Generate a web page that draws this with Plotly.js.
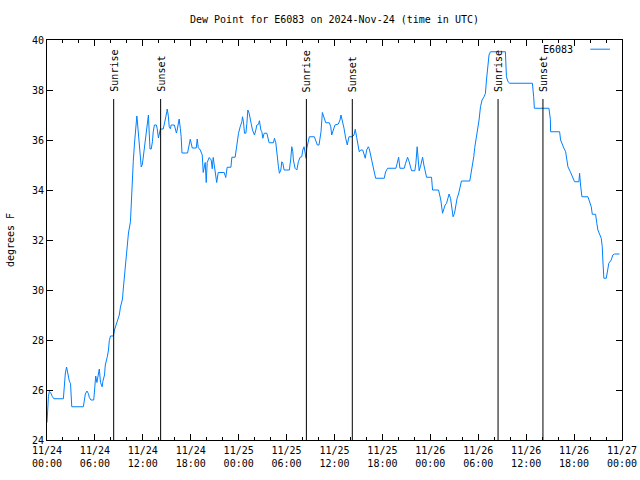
<!DOCTYPE html>
<html><head><meta charset="utf-8">
<script src="https://cdn.plot.ly/plotly-3.0.1.min.js"></script>
<style>html,body{margin:0;padding:0;background:#fff}</style>
</head><body><div id="chart" style="width:640px;height:480px"></div>
<script>
// hours since 2024-11-24 00:00 UTC
const hours = [
0.00,0.08,0.18,0.30,0.45,0.65,0.85,2.05,2.20,2.30,2.45,2.55,2.70,2.80,2.95,3.05,3.10,4.55,4.70,4.80,
5.00,5.20,5.30,5.50,5.85,5.95,6.10,6.25,6.45,6.55,6.70,6.90,7.00,7.20,7.30,7.45,7.55,7.70,7.80,7.95,
8.30,8.45,8.70,8.90,9.05,9.20,9.45,9.55,9.75,9.95,10.05,10.20,10.45,10.55,10.70,10.80,10.95,11.05,11.20,11.25,
11.30,11.45,11.55,11.70,11.80,11.95,12.05,12.20,12.30,12.50,12.55,12.70,12.80,12.90,13.05,13.20,13.30,13.45,13.70,13.80,
13.95,14.05,14.20,14.55,14.70,14.80,15.00,15.05,15.20,15.30,15.45,15.55,15.95,16.05,16.20,16.30,16.55,16.70,16.80,16.90,
17.60,17.94,18.19,18.69,18.81,18.94,19.19,19.44,19.56,19.81,19.94,20.06,20.31,20.56,20.69,20.81,20.94,21.06,21.25,21.44,
22.19,22.38,22.56,23.03,23.15,23.56,23.65,23.78,23.90,23.98,24.19,24.40,24.48,24.60,24.73,24.90,25.03,25.15,25.31,25.44,
25.56,25.73,25.85,25.98,26.15,26.28,26.48,26.60,26.78,26.90,27.03,27.19,27.53,27.65,27.81,28.35,28.48,28.65,28.78,28.98,
29.10,29.28,29.40,29.53,29.69,30.35,30.53,30.65,30.78,30.85,31.06,31.28,31.48,31.69,31.90,32.03,32.19,32.31,32.44,32.53,
32.73,32.85,33.48,33.65,33.85,34.06,34.19,34.31,34.48,34.69,34.90,35.35,35.53,35.65,35.85,36.06,36.48,36.69,36.81,37.03,
37.19,37.40,37.60,37.81,38.23,38.44,38.60,38.78,38.98,39.10,39.28,39.53,39.73,39.85,40.03,40.23,40.35,40.53,40.69,40.85,
41.03,41.15,42.23,42.40,42.65,43.69,43.85,44.03,44.19,44.73,44.90,45.15,45.35,45.53,45.65,46.06,46.19,46.35,46.53,46.60,
46.81,47.03,47.19,47.35,47.53,48.15,48.28,49.03,49.19,49.31,49.53,49.69,49.85,50.03,50.19,50.35,50.53,50.69,50.85,51.03,
51.19,51.35,51.53,51.69,51.90,52.94,53.15,53.35,53.44,53.56,53.78,53.98,54.10,54.28,54.48,54.73,54.90,55.03,55.23,55.35,
55.53,57.40,57.53,57.73,57.94,60.78,60.94,61.03,62.85,63.03,63.06,64.19,64.31,64.53,64.73,64.94,65.10,65.23,65.53,65.78,
66.06,66.60,66.69,66.81,66.98,67.73,67.94,68.15,68.28,68.69,68.85,68.98,69.40,69.53,69.60,69.73,70.03,70.15,70.35,70.65,
70.85,71.06,71.69
];
const dewPoint = [
24.70,25.30,25.75,25.95,25.90,25.75,25.65,25.65,26.28,26.68,26.92,26.70,26.45,26.35,26.25,25.80,25.33,25.33,25.64,25.84,
25.96,25.85,25.70,25.60,25.60,26.08,26.56,26.30,26.68,26.84,26.30,26.13,26.35,26.60,27.00,27.15,27.33,27.60,27.97,28.16,
28.16,28.40,28.69,28.83,29.00,29.32,29.64,30.04,30.80,31.60,31.90,32.28,32.73,33.53,34.28,35.13,35.84,36.28,36.73,36.96,
36.80,36.28,35.73,35.13,34.92,35.04,35.32,35.48,35.88,36.40,36.70,37.00,36.28,35.64,35.64,35.93,36.33,36.60,36.60,36.45,
36.08,36.25,36.44,36.44,36.60,36.80,37.13,37.24,36.95,36.53,36.45,36.60,36.60,36.45,36.28,36.40,36.84,36.45,36.13,35.48,
35.48,36.03,35.68,35.68,36.04,35.70,35.60,35.40,34.70,35.10,34.30,35.10,35.30,35.20,34.85,35.30,35.00,34.60,34.30,34.70,
34.70,34.50,34.91,34.91,35.31,35.31,35.56,35.80,36.00,36.27,36.53,36.73,36.93,36.73,36.27,36.27,36.67,37.20,37.07,36.80,
36.67,36.40,36.33,36.20,36.40,36.60,36.63,36.77,36.40,36.33,36.07,36.27,36.27,36.07,35.89,35.89,36.07,35.89,35.40,34.93,
34.67,34.80,35.13,35.07,34.80,34.80,35.27,35.73,35.53,35.20,34.87,34.80,35.13,35.31,35.33,35.60,35.73,35.53,35.27,35.67,
36.00,36.13,36.13,36.00,35.80,35.80,36.00,36.33,37.10,36.93,36.69,36.69,36.53,36.20,36.40,36.60,36.64,36.80,37.00,36.73,
36.47,36.07,35.80,36.13,36.13,36.20,36.43,36.10,35.73,35.53,35.60,35.60,35.40,35.27,35.60,35.73,35.65,35.40,35.13,34.93,
34.73,34.47,34.47,34.73,34.87,34.87,35.07,35.31,34.87,34.87,35.07,35.31,35.13,34.93,34.77,34.77,35.07,35.73,35.20,34.77,
35.00,35.31,35.00,34.73,34.51,34.51,34.00,34.00,33.80,33.60,33.07,33.27,33.40,33.47,33.67,33.84,33.67,33.33,32.93,33.07,
33.40,33.67,33.84,34.11,34.36,34.36,34.73,35.23,35.33,35.70,36.13,36.40,36.80,37.33,37.60,37.73,37.87,38.40,38.93,39.40,
39.53,39.53,38.53,38.33,38.27,38.27,37.73,37.27,37.27,36.83,36.33,36.33,36.00,35.80,35.67,35.53,35.27,34.93,34.73,34.53,
34.33,34.33,34.67,34.20,33.73,33.73,33.53,33.33,33.03,33.03,32.67,32.40,32.07,31.73,31.20,30.47,30.47,30.73,31.07,31.20,
31.40,31.44,31.44
];
const sunriseHours = [8.35, 32.48, 56.48];
const sunsetHours = [14.23, 38.23, 62.10];
const tickHours = [0, 6, 12, 18, 24, 30, 36, 42, 48, 54, 60, 66, 72];
const tickDates = ['11/24','11/24','11/24','11/24','11/25','11/25','11/25','11/25','11/26','11/26','11/26','11/26','11/27'];
const tickTimes = ['00:00','06:00','12:00','18:00','00:00','06:00','12:00','18:00','00:00','06:00','12:00','18:00','00:00'];
const seriesName = 'E6083';

const font = {family: 'DejaVu Sans Mono, monospace', size: 10, color: '#000'};
const lineColor = '#0080ff';
const markerTop = 0.8525;

const shapes = [];
const annotations = [];
function addMarker(t, label) {
  shapes.push({type: 'line', xref: 'x', yref: 'paper', x0: t, x1: t, y0: 0, y1: markerTop,
    line: {color: '#000', width: 1}});
  annotations.push({x: t, xref: 'x', y: markerTop, yref: 'paper', text: label, textangle: -90,
    showarrow: false, xanchor: 'center', yanchor: 'bottom', yshift: 5, xshift: 1, font: font});
}
sunriseHours.forEach(t => addMarker(t, 'Sunrise'));
sunsetHours.forEach(t => addMarker(t, 'Sunset'));

// key (text before sample line, gnuplot style)
annotations.push({x: 0.9175, xref: 'paper', y: 0.976, yref: 'paper', text: seriesName, showarrow: false,
  xanchor: 'right', yanchor: 'middle', font: font});
shapes.push({type: 'line', xref: 'paper', yref: 'paper', x0: 0.9449, x1: 0.9791, y0: 0.977, y1: 0.977,
  line: {color: lineColor, width: 1}});

const trace = {x: hours, y: dewPoint, type: 'scatter', mode: 'lines', name: seriesName,
  line: {color: lineColor, width: 1}, hoverinfo: 'skip'};

const layout = {
  width: 640, height: 480,
  margin: {l: 47, r: 18, t: 40, b: 40, pad: 0},
  paper_bgcolor: '#fff', plot_bgcolor: '#fff',
  font: font, showlegend: false,
  title: {text: 'Dew Point for E6083 on 2024-Nov-24 (time in UTC)', x: 0.5, xref: 'paper',
    y: 1 - 19/480, yref: 'container', yanchor: 'middle', font: font},
  xaxis: {range: [0, 72], tickmode: 'array', tickvals: tickHours,
    ticktext: tickHours.map((h, i) => tickDates[i] + '<br>' + tickTimes[i]),
    ticks: 'inside', ticklen: 6, tickcolor: '#000', tickwidth: 1,
    showline: true, linecolor: '#000', linewidth: 1, mirror: 'ticks',
    showgrid: false, zeroline: false, fixedrange: true, tickfont: font, ticklabelstandoff: 1,
    minor: {tickmode: 'linear', tick0: 0, dtick: 2, ticks: 'inside', ticklen: 3, tickcolor: '#000', showgrid: false}},
  yaxis: {range: [24, 40], tickmode: 'linear', tick0: 24, dtick: 2,
    ticks: 'inside', ticklen: 6, tickcolor: '#000', tickwidth: 1,
    showline: true, linecolor: '#000', linewidth: 1, mirror: 'ticks',
    showgrid: false, zeroline: false, fixedrange: true, tickfont: font,
    title: {text: 'degrees F', font: font, standoff: 15}},
  shapes: shapes, annotations: annotations
};

Plotly.newPlot('chart', [trace], layout, {staticPlot: true, displayModeBar: false});
</script>
</body></html>
